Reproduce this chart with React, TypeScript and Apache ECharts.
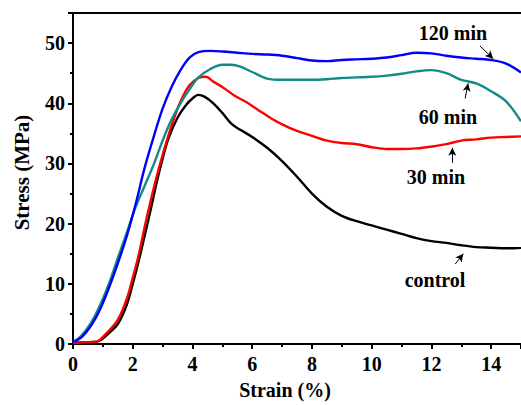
import React, { useEffect, useRef } from "react";
import * as echarts from "echarts";

const controlX = [0, 0.4, 0.8, 1.0, 1.2, 1.5, 1.8, 2.0, 2.2, 2.4, 2.6, 2.8, 3.0, 3.2, 3.5, 3.8, 4.0, 4.2, 4.4, 4.7, 5.0, 5.3, 5.6, 6.0, 6.5, 7.0, 7.5, 8.0, 8.5, 9.0, 9.5, 10.0, 10.5, 11.0, 11.5, 12.0, 12.5, 13.0, 13.5, 14.0, 14.5, 15.0];
const controlY = [0.2, 0.3, 0.4, 0.9, 1.8, 3.3, 6.5, 10.0, 13.8, 18.0, 22.3, 26.8, 30.8, 34.2, 37.6, 39.8, 40.8, 41.4, 41.1, 40.0, 38.4, 36.6, 35.6, 34.4, 32.6, 30.4, 27.8, 25.0, 22.8, 21.3, 20.4, 19.7, 19.0, 18.3, 17.6, 17.1, 16.8, 16.4, 16.1, 16.0, 15.9, 16.0];

const min30X = [0, 0.4, 0.8, 1.0, 1.2, 1.5, 1.8, 2.0, 2.2, 2.4, 2.6, 2.8, 3.0, 3.3, 3.6, 3.9, 4.2, 4.45, 4.7, 5.0, 5.4, 5.8, 6.2, 6.6, 7.0, 7.5, 8.0, 8.5, 9.0, 9.5, 10.0, 10.5, 11.0, 11.5, 12.0, 12.5, 13.0, 13.5, 14.0, 14.5, 15.0];
const min30Y = [0.2, 0.3, 0.4, 1.2, 2.2, 4.0, 7.5, 11.0, 14.8, 19.5, 23.8, 27.8, 31.4, 36.3, 40.3, 43.0, 44.2, 44.4, 43.6, 42.7, 41.3, 40.2, 38.9, 37.6, 36.5, 35.4, 34.6, 33.8, 33.4, 33.2, 32.7, 32.4, 32.4, 32.5, 32.8, 33.2, 33.8, 34.0, 34.3, 34.4, 34.5];

const min60X = [0, 0.3, 0.6, 0.9, 1.2, 1.5, 1.8, 2.1, 2.4, 2.7, 3.0, 3.3, 3.6, 3.9, 4.2, 4.6, 5.0, 5.3, 5.6, 6.0, 6.5, 7.0, 7.5, 8.0, 8.5, 9.0, 9.5, 10.0, 10.5, 11.0, 11.5, 12.0, 12.5, 13.0, 13.5, 14.0, 14.5, 15.0];
const min60Y = [0.3, 1.5, 3.5, 6.4, 10.0, 14.3, 18.5, 22.8, 26.3, 29.8, 33.8, 37.3, 40.0, 42.3, 44.3, 45.7, 46.4, 46.4, 46.1, 45.2, 44.1, 43.9, 43.9, 43.9, 44.0, 44.2, 44.3, 44.4, 44.6, 44.9, 45.3, 45.5, 45.0, 43.9, 43.3, 42.0, 40.3, 37.0];

const min120X = [0, 0.3, 0.6, 0.9, 1.2, 1.5, 1.8, 2.1, 2.4, 2.7, 3.0, 3.3, 3.6, 3.9, 4.2, 4.6, 5.0, 5.5, 6.0, 6.5, 7.0, 7.5, 8.0, 8.5, 9.0, 9.5, 10.0, 10.5, 11.0, 11.5, 12.0, 12.5, 13.0, 13.5, 14.0, 14.5, 15.0];
const min120Y = [0.3, 1.2, 3.0, 5.7, 9.3, 13.4, 17.9, 23.3, 29.3, 34.4, 39.1, 42.7, 45.5, 47.6, 48.5, 48.7, 48.6, 48.4, 48.2, 48.1, 47.9, 47.5, 47.1, 47.0, 47.2, 47.3, 47.4, 47.6, 48.0, 48.4, 48.3, 47.9, 47.6, 47.4, 47.2, 46.6, 45.1];

const xTicks = [0, 2, 4, 6, 8, 10, 12, 14];
const yTicks = [0, 10, 20, 30, 40, 50];

const labels = ["120 min", "60 min", "30 min", "control"];
// arrows in data coords [from, to]
const arrows: [number, number, number, number][] = [
  [13.63, 49.5, 14.07, 47.4],
  [13.13, 40.8, 13.23, 43.3],
  [12.7, 30.1, 12.7, 32.6],
  [12.8, 13.3, 13.07, 15.0],
];

const FONT = "Liberation Serif";

function zip(xs: number[], ys: number[]) {
  return xs.map((x, i) => [x, ys[i]]);
}

export default function App() {
  const ref = useRef<HTMLDivElement>(null);
  useEffect(() => {
    if (!ref.current) return;
    const chart = echarts.init(ref.current, null, { renderer: "svg" });
    const lineSeries = (name: string, xs: number[], ys: number[], color: string) => ({
      name,
      type: "line",
      data: zip(xs, ys),
      smooth: 0.35,
      showSymbol: false,
      symbol: "none",
      lineStyle: { color, width: 2.4 },
      z: 3,
    });
    const textPos = [
      [453, 33],
      [448, 117],
      [436, 177],
      [435, 280],
    ];
    chart.setOption({
      animation: false,
      backgroundColor: "#ffffff",
      grid: { left: 73, top: 13, right: -3, bottom: 57 },
      xAxis: [
        {
          type: "value",
          min: 0,
          max: 15,
          interval: 2,
          name: "Strain (%)",
          nameLocation: "middle",
          nameGap: 36,
          nameTextStyle: { fontFamily: FONT, fontWeight: "bold", fontSize: 20, color: "#000", padding: [0, 24, 0, 0] },
          axisLine: { show: true, onZero: false, lineStyle: { color: "#000", width: 2 } },
          axisTick: { show: true, inside: false, length: 5, lineStyle: { color: "#000", width: 2 } },
          minorTick: { show: true, splitNumber: 2, length: 3, lineStyle: { color: "#000", width: 2 } },
          axisLabel: {
            fontFamily: FONT,
            fontWeight: "bold",
            fontSize: 20,
            color: "#000",
            margin: 10,
            showMaxLabel: false,
            formatter: (v: number) => (xTicks.includes(v) ? String(v) : ""),
          },
          splitLine: { show: false },
        },
        {
          type: "value",
          position: "top",
          min: 0,
          max: 15,
          axisLine: { show: true, onZero: false, lineStyle: { color: "#000", width: 2 } },
          axisTick: { show: false },
          axisLabel: { show: false },
          splitLine: { show: false },
        },
      ],
      yAxis: {
        type: "value",
        min: 0,
        max: 55,
        interval: 10,
        name: "Stress (MPa)",
        nameLocation: "middle",
        nameGap: 41,
        nameTextStyle: { fontFamily: FONT, fontWeight: "bold", fontSize: 21, color: "#000", padding: [0, 0, 0, 12] },
        axisLine: { show: true, onZero: false, lineStyle: { color: "#000", width: 2 } },
        axisTick: { show: true, inside: false, length: 5, lineStyle: { color: "#000", width: 2 } },
        minorTick: { show: true, splitNumber: 2, length: 3, lineStyle: { color: "#000", width: 2 } },
        axisLabel: {
          fontFamily: FONT,
          fontWeight: "bold",
          fontSize: 20,
          color: "#000",
          margin: 8,
          showMaxLabel: false,
          formatter: (v: number) => (yTicks.includes(v) ? String(v) : ""),
        },
        splitLine: { show: false },
      },
      series: [
        lineSeries("control", controlX, controlY, "#000000"),
        lineSeries("30 min", min30X, min30Y, "#ff0000"),
        lineSeries("60 min", min60X, min60Y, "#138a8a"),
        lineSeries("120 min", min120X, min120Y, "#0000ff"),
        {
          type: "line",
          data: [],
          silent: true,
          markLine: {
            silent: true,
            symbol: ["none", "arrow"],
            symbolSize: [6, 8],
            label: { show: false },
            lineStyle: { color: "#000", width: 1, type: "solid" },
            data: arrows.map((a) => [{ coord: [a[0], a[1]] }, { coord: [a[2], a[3]] }]),
          },
        },
      ],
      graphic: labels.map((t, i) => ({
        type: "text",
        x: textPos[i][0],
        y: textPos[i][1],
        style: {
          text: t,
          fontFamily: FONT,
          fontWeight: "bold",
          fontSize: 20,
          fill: "#000",
          textAlign: "center",
          textVerticalAlign: "middle",
        },
        z: 10,
      })),
    });
    return () => chart.dispose();
  }, []);
  return <div ref={ref} style={{ width: 521, height: 405, position: "absolute", left: 0, top: 0 }} />;
}
